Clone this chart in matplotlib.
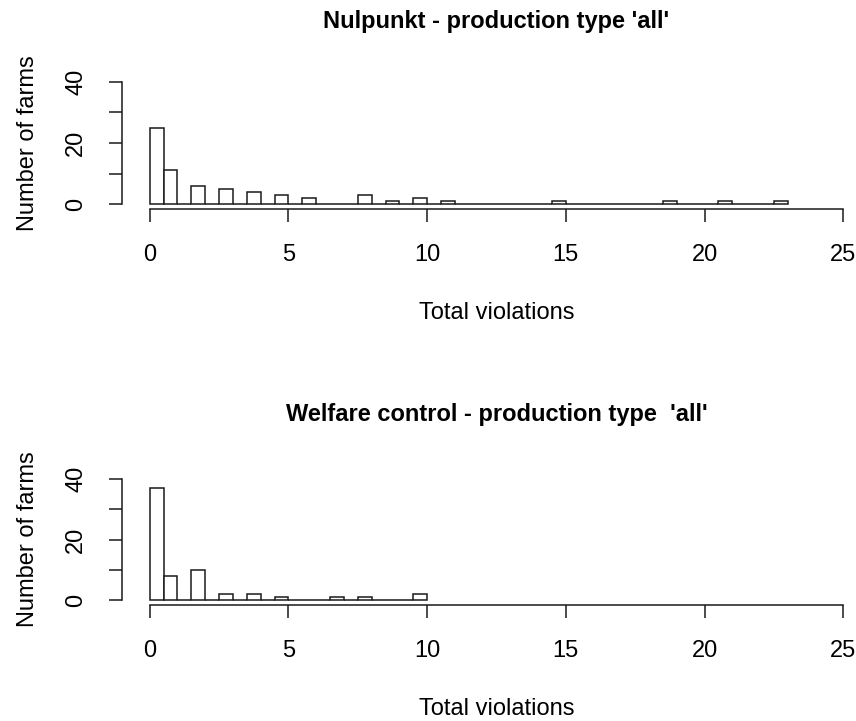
import numpy as np
import matplotlib.pyplot as plt

plt.rcParams['font.family'] = ['Liberation Sans', 'DejaVu Sans']

# counts per total-violations value (0, 1, 2, ...)
nulpunkt_counts = [25, 11, 6, 5, 4, 3, 2, 0, 3, 1, 2, 1,
                   0, 0, 0, 1, 0, 0, 0, 1, 0, 1, 0, 1]
welfare_counts = [37, 8, 10, 2, 2, 1, 0, 1, 1, 0, 2]

titles = ["Nulpunkt - production type 'all'",
          "Welfare control - production type  'all'"]
xlabel = "Total violations"
ylabel = "Number of farms"
xticks = [0, 5, 10, 15, 20, 25]
yticks = [0, 10, 20, 30, 40]
ytick_labels = ["0", "", "20", "", "40"]

fig = plt.figure(figsize=(8.56, 7.21), dpi=100)
W, H = 856, 721
ax_top = fig.add_axes([122 / W, 1 - 209 / H, 749 / W, 132 / H])
ax_bot = fig.add_axes([122 / W, 1 - 605 / H, 749 / W, 131 / H])


def r_hist(ax, counts, title, title_pad):
    counts = np.array(counts)
    # R hist with breaks every 0.5, right-closed, include.lowest:
    # 0 lands in [0, 0.5], k in (k-0.5, k]; the (k, k+0.5] bins stay empty
    nmax = len(counts) - 1
    edges = np.arange(0, nmax + 0.5, 0.5)
    heights = np.zeros(len(edges) - 1)
    heights[0] = counts[0]
    heights[1::2] = counts[1:]
    ax.bar(edges[:-1], heights, width=0.5, align='edge', facecolor='white',
           edgecolor='#1a1a1a', linewidth=1.1)
    ax.set_xlim(-1, 26)
    ax.set_ylim(-1.6, 41.6)
    for s in ['top', 'right']:
        ax.spines[s].set_visible(False)
    ax.spines['left'].set_bounds(0, 40)
    ax.spines['bottom'].set_bounds(0, 25)
    for s in ['left', 'bottom']:
        ax.spines[s].set_linewidth(1.1)
        ax.spines[s].set_color('#1a1a1a')
    ax.set_xticks(xticks)
    ax.set_yticks(yticks)
    ax.set_yticklabels(ytick_labels, rotation=90, va='center')
    ax.tick_params(direction='out', length=9.5, width=1.1, color='#1a1a1a',
                   labelsize=17, pad=15.5)
    ax.set_title(title, fontsize=17, fontweight='bold', pad=title_pad)
    ax.set_xlabel(xlabel, fontsize=17, labelpad=26)
    ax.set_ylabel(ylabel, fontsize=17, labelpad=19)


r_hist(ax_top, nulpunkt_counts, titles[0], 35)
r_hist(ax_bot, welfare_counts, titles[1], 38)

fig.savefig('out.png', dpi=100)
